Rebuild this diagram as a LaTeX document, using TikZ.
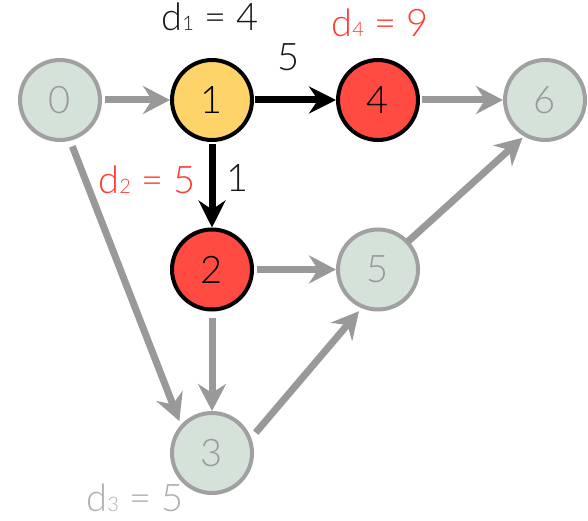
\documentclass[tikz,border=0pt]{standalone}
\usepackage{fontspec}
\IfFontExistsTF{Lato Light}{\setmainfont{Lato Light}}{\setmainfont{Lato}}
\usetikzlibrary{arrows.meta}
\definecolor{gline}{HTML}{999999}
\definecolor{gfill}{HTML}{D4E2DA}
\definecolor{gborder}{HTML}{A0A0A0}
\definecolor{rfill}{HTML}{FF4B41}
\definecolor{yfill}{HTML}{FDD36A}
\definecolor{rtext}{HTML}{FF3B30}
\definecolor{ltext}{HTML}{AEAEAE}
\newcommand{\bigfnt}{\fontsize{38}{38}\selectfont}
\newcommand{\subnum}[1]{{\fontsize{20}{20}\selectfont #1}}
\tikzset{
  vert/.style={circle, minimum size=80pt, inner sep=0pt, line width=4pt, font=\bigfnt},
  grayv/.style={vert, draw=gborder, fill=gfill, text=gline},
  redv/.style={vert, draw=black, fill=rfill, text=black},
  yelv/.style={vert, draw=black, fill=yfill, text=black},
  gedge/.style={draw=gline, line width=7pt, -{Stealth[length=27pt, width=28pt, inset=9pt]}},
  bedge/.style={draw=black, line width=7pt, -{Stealth[length=27pt, width=27pt, inset=9pt]}},
  lab/.style={anchor=base, font=\bigfnt, inner sep=0pt}
}
\begin{document}
\begin{tikzpicture}[x=1pt, y=-1pt]
\useasboundingbox (0,0) rectangle (588,521);
\node[grayv] (n0) at (60,100) {0};
\node[yelv]  (n1) at (212,100) {1};
\node[redv]  (n4) at (378,100) {4};
\node[grayv] (n6) at (545,100) {6};
\node[redv]  (n2) at (212,269.5) {2};
\node[grayv] (n5) at (378,269.5) {5};
\node[grayv] (n3) at (212,453) {3};

\draw[gedge, shorten <=3pt] (n0.east) -- (n1.west);
\draw[bedge, shorten <=1pt] (n1.east) -- (n4.west);
\draw[gedge, shorten <=1.5pt] (n4.east) -- (n6.west);
\draw[bedge, shorten <=2pt] (n1.south) -- (n2.north);
\draw[gedge, shorten <=3pt] (n2.east) -- (n5.west);
\draw[gedge, shorten <=6pt] (n2.south) -- (n3.north);
\draw[gedge, shorten <=6pt, shorten >=4pt] (n0.-76) -- (n3.138);
\draw[gedge, shorten <=7pt, shorten >=4pt] (n3.21) -- (n5.-113);
\draw[gedge, shorten <=-1pt, shorten >=2pt] (n5.43) -- (n6.-120);

\node[lab, text=black!90] (l1) at (210,31) {d\subnum{1} = 4};
\node[lab, text=rtext] (l4) at (380,37) {d\subnum{4} = 9};
\node[lab, text=rtext] (l2) at (147,194) {d\subnum{2} = 5};
\node[lab, text=ltext] (l3) at (135,511) {d\subnum{3} = 5};
\node[lab, text=black!90] (w14) at (289,71) {5};
\node[lab, text=black!90] (w12) at (238,192) {1};
\end{tikzpicture}
\end{document}
